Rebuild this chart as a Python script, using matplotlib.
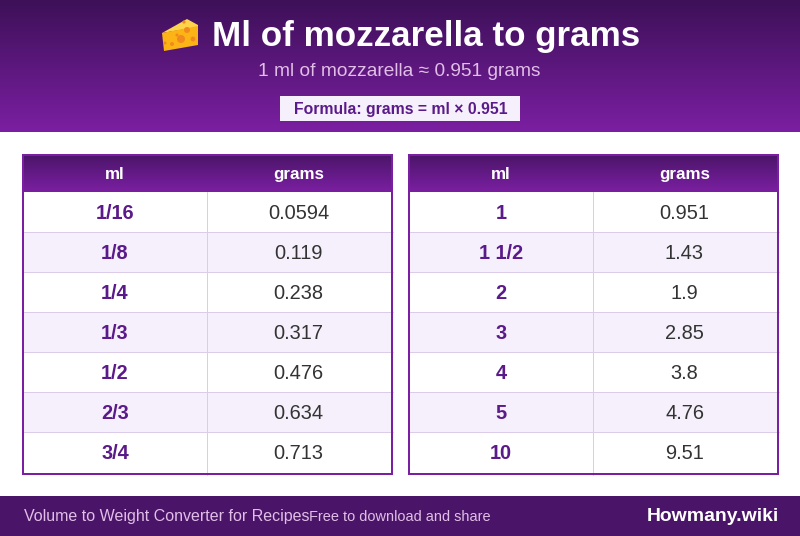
#!/usr/bin/env python3
"""Ml of mozzarella to grams conversion card."""
import matplotlib
matplotlib.use("Agg")
import matplotlib.pyplot as plt
import numpy as np
from matplotlib.colors import LinearSegmentedColormap
from matplotlib.patches import Circle, Polygon, Rectangle

plt.rcParams["font.family"] = ["Liberation Sans", "DejaVu Sans"]

TITLE = "Ml of mozzarella to grams"
SUBTITLE = "1 ml of mozzarella ≈ 0.951 grams"
FORMULA = "Formula: grams = ml × 0.951"
COL_HEADS = ["ml", "grams"]
ML_LEFT = ["1/16", "1/8", "1/4", "1/3", "1/2", "2/3", "3/4"]
GRAMS_LEFT = ["0.0594", "0.119", "0.238", "0.317", "0.476", "0.634", "0.713"]
ML_RIGHT = ["1", "1 1/2", "2", "3", "4", "5", "10"]
GRAMS_RIGHT = ["0.951", "1.43", "1.9", "2.85", "3.8", "4.76", "9.51"]
FOOT_LEFT = "Volume to Weight Converter for Recipes"
FOOT_MID = "Free to download and share"
BRAND = "Howmany.wiki"

C_DARK = "#4a1568"
C_TOP = "#3d1058"
C_MID = "#7b1fa2"
C_TEXT = "#333333"
C_ML = "#5b1a8a"
C_ALT = "#f5f0fb"
C_GRID = "#dccbe9"
C_SUB = "#e1bee7"
PX = 0.72  # px to pt at dpi 100


def gradient(ax, x0, x1, y0, y1, top, bottom, zorder=1):
    cmap = LinearSegmentedColormap.from_list("g", [top, bottom])
    ax.imshow(np.linspace(0, 1, 256).reshape(-1, 1), cmap=cmap, aspect="auto",
              extent=(x0, x1, y1, y0), zorder=zorder, interpolation="bilinear")


def cheese(ax, dx, dy):
    # emoji drawn by hand, no colour emoji font here
    ax.add_patch(Polygon([(dx + 2, dy + 15), (dx + 27, dy + 1), (dx + 38, dy + 7),
                          (dx + 38, dy + 9)], fc="#fdd34b", ec="none", zorder=3))
    ax.add_patch(Polygon([(dx + 2, dy + 15), (dx + 38, dy + 8), (dx + 38, dy + 27),
                          (dx + 4, dy + 33)], fc="#fbb316", ec="none", zorder=3))
    holes = [(21, 21, 4), (12, 26, 2), (33, 21, 2.4), (27, 12, 3), (24, 4, 1.6),
             (17, 17, 1.5), (5, 25, 1.5)]
    for hx, hy, r in holes:
        ax.add_patch(Circle((dx + hx, dy + hy), r, fc="#f18a1e", ec="none", zorder=4))


def table(ax, x0, ml, grams):
    w, top, head_h, row_h = 371, 154, 38, 40
    split = x0 + 185
    bottom = top + head_h + row_h * len(ml) + 3
    ax.add_patch(Rectangle((x0, top), w, bottom - top, fc="white", ec="none", zorder=2))
    gradient(ax, x0, x0 + w, top, top + head_h, C_DARK, C_MID, zorder=3)
    for x, label in zip((x0 + 93, x0 + 277), COL_HEADS):
        ax.text(x, top + 25, label, ha="center", va="baseline", color="white",
                fontsize=17 * PX, weight="bold", zorder=6)
    for i, (m, g) in enumerate(zip(ml, grams)):
        y = top + head_h + row_h * i
        if i % 2:
            ax.add_patch(Rectangle((x0, y), w, row_h, fc=C_ALT, ec="none", zorder=2))
        if i < len(ml) - 1:
            ax.plot([x0, x0 + w], [y + row_h - 0.5] * 2, color=C_GRID, lw=0.72, zorder=3)
        ax.text(x0 + 93, y + 27, m, ha="center", va="baseline", color=C_ML,
                fontsize=20 * PX, weight="bold", zorder=6)
        ax.text(x0 + 276.5, y + 27, g, ha="center", va="baseline", color=C_TEXT,
                fontsize=20 * PX, zorder=6)
    ax.plot([split, split], [top + head_h, bottom], color=C_GRID, lw=0.72, zorder=3)
    # border as four filled strips so it stays a crisp 2 px
    strips = [(x0, top, w, 2), (x0, bottom - 2, w, 2),
              (x0, top, 2, bottom - top), (x0 + w - 2, top, 2, bottom - top)]
    for sx, sy, sw, sh in strips:
        ax.add_patch(Rectangle((sx, sy), sw, sh, fc=C_MID, ec="none", zorder=5))


def main():
    fig = plt.figure(figsize=(8, 5.36), dpi=100)
    ax = fig.add_axes([0, 0, 1, 1])
    ax.axis("off")

    gradient(ax, 0, 800, 0, 132, C_TOP, C_MID)
    cheese(ax, 160, 18)
    ax.text(426, 46, TITLE, ha="center", va="baseline", color="white",
            fontsize=35 * PX, weight="bold", zorder=6)
    ax.text(399.5, 76, SUBTITLE, ha="center", va="baseline", color=C_SUB,
            fontsize=19.2 * PX, zorder=6)
    ax.add_patch(Rectangle((280, 96), 240, 25, fc=C_ALT, ec="none", zorder=3))
    ax.text(401, 114, FORMULA, ha="center", va="baseline", color=C_ML,
            fontsize=15.7 * PX, weight="bold", zorder=6)

    table(ax, 22, ML_LEFT, GRAMS_LEFT)
    table(ax, 408, ML_RIGHT, GRAMS_RIGHT)

    ax.add_patch(Rectangle((0, 496), 800, 40, fc=C_DARK, ec="none", zorder=2))
    ax.text(24, 521, FOOT_LEFT, ha="left", va="baseline", color=C_SUB,
            fontsize=16 * PX, zorder=6)
    ax.text(309, 521, FOOT_MID, ha="left", va="baseline", color=C_SUB,
            fontsize=14.5 * PX, zorder=6)
    ax.text(778.5, 521, BRAND, ha="right", va="baseline", color="white",
            fontsize=19.4 * PX, weight="bold", zorder=6)

    ax.set_xlim(0, 800)
    ax.set_ylim(536, 0)
    fig.savefig("out.png", dpi=100, facecolor="white")


if __name__ == "__main__":
    main()
